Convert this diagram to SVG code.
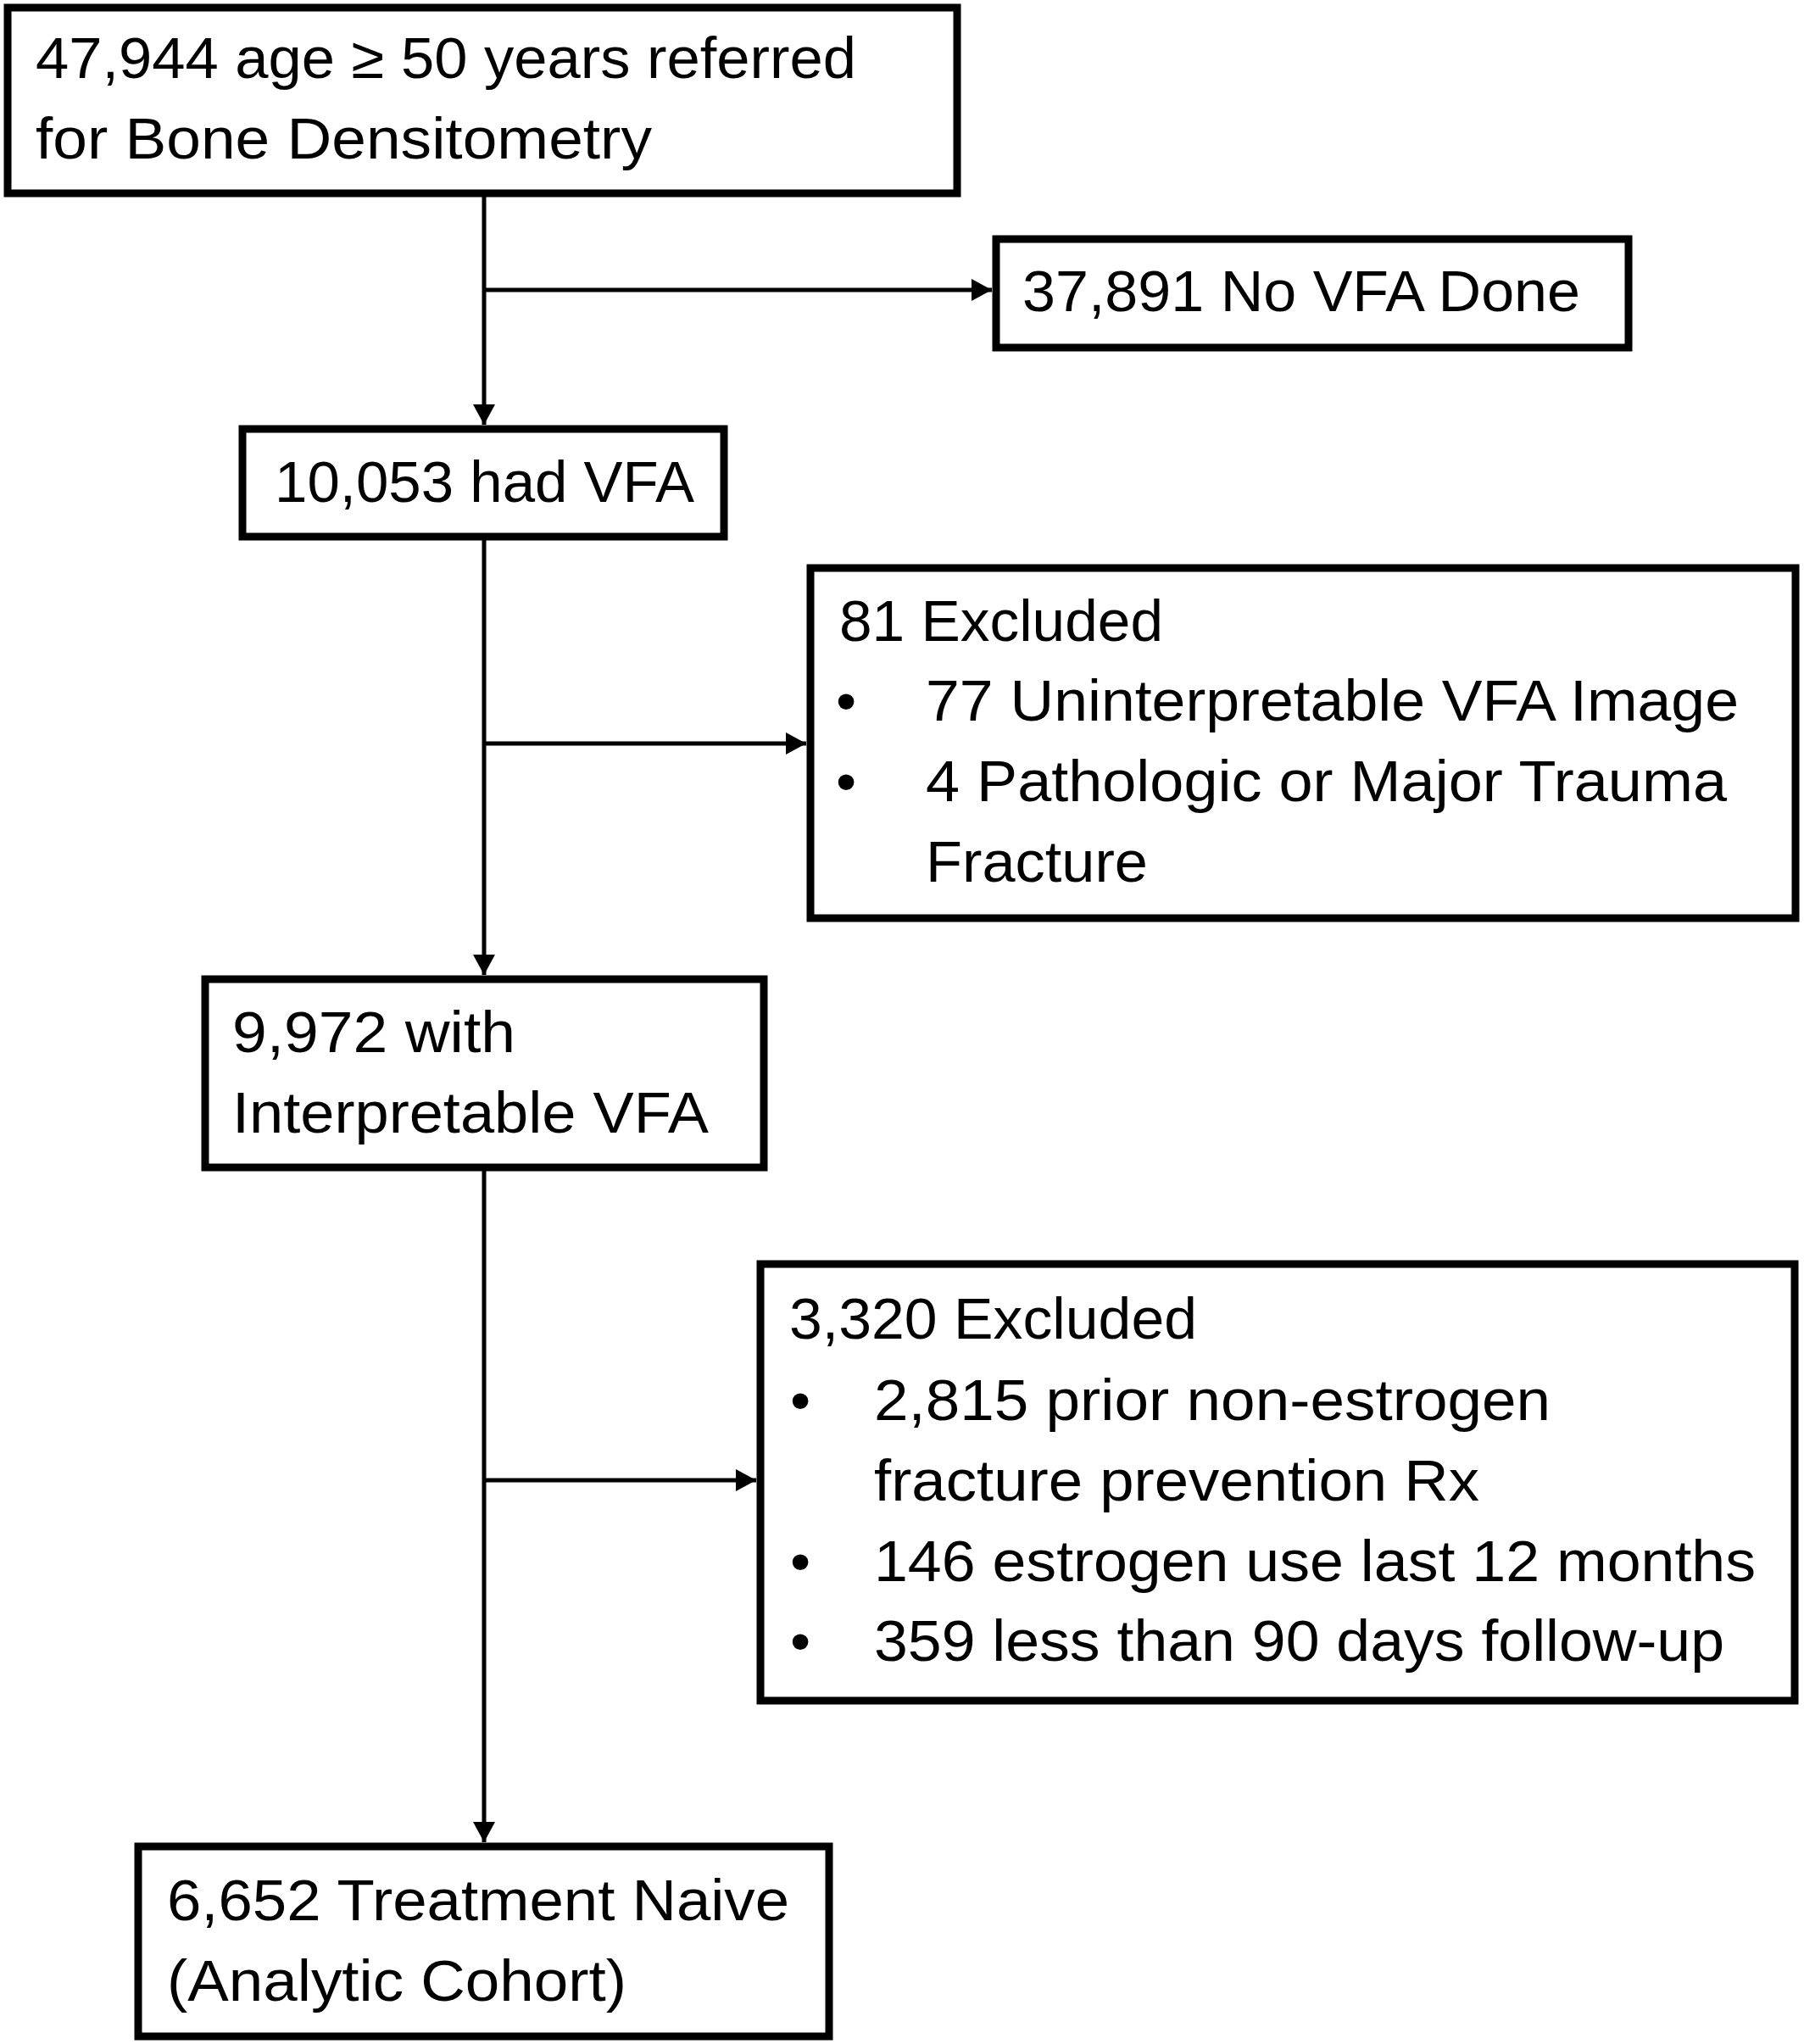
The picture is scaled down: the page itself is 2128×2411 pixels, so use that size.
<svg xmlns="http://www.w3.org/2000/svg" width="2128" height="2411" viewBox="0 0 2128 2411">
<style>
.box{fill:#fff;stroke:#000;stroke-width:9}
.t{font-family:"Liberation Sans",Arial,sans-serif;font-size:69px;fill:#000}
.c{stroke:#000;stroke-width:5;fill:none}
</style>
<defs>
<marker id="ah" markerUnits="userSpaceOnUse" markerWidth="26" markerHeight="26" viewBox="0 0 26 26" refX="24" refY="13" orient="auto">
<path d="M0,0 L24,13 L0,26 z" fill="#000"/>
</marker>
</defs>
<rect width="2128" height="2411" fill="#fff"/>
<g id="connectors">
<line class="c" x1="571" y1="232" x2="571" y2="501" marker-end="url(#ah)"/>
<line class="c" x1="571" y1="342" x2="1170" y2="342" marker-end="url(#ah)"/>
<line class="c" x1="571" y1="637" x2="571" y2="1150" marker-end="url(#ah)"/>
<line class="c" x1="571" y1="877" x2="951" y2="877" marker-end="url(#ah)"/>
<line class="c" x1="571" y1="1381" x2="571" y2="2173" marker-end="url(#ah)"/>
<line class="c" x1="571" y1="1746" x2="892" y2="1746" marker-end="url(#ah)"/>
</g>
<g id="n1">
<rect class="box" x="9" y="9" width="1120" height="219"/>
<text class="t" x="42" y="92" textLength="968" lengthAdjust="spacingAndGlyphs">47,944 age ≥ 50 years referred</text>
<text class="t" x="42" y="187" textLength="727" lengthAdjust="spacingAndGlyphs">for Bone Densitometry</text>
</g>
<g id="n2">
<rect class="box" x="1175" y="282" width="746" height="128"/>
<text class="t" x="1206" y="367" textLength="658" lengthAdjust="spacingAndGlyphs">37,891 No VFA Done</text>
</g>
<g id="n3">
<rect class="box" x="286" y="506" width="568" height="127"/>
<text class="t" x="324" y="592" textLength="495" lengthAdjust="spacingAndGlyphs">10,053 had VFA</text>
</g>
<g id="n4">
<rect class="box" x="956" y="670" width="1162" height="413"/>
<text class="t" x="990" y="756" textLength="382" lengthAdjust="spacingAndGlyphs">81 Excluded</text>
<text class="t" x="986" y="850">•</text>
<text class="t" x="1092" y="850" textLength="959" lengthAdjust="spacingAndGlyphs">77 Uninterpretable VFA Image</text>
<text class="t" x="986" y="945">•</text>
<text class="t" x="1092" y="945" textLength="945" lengthAdjust="spacingAndGlyphs">4 Pathologic or Major Trauma</text>
<text class="t" x="1092" y="1040" textLength="262" lengthAdjust="spacingAndGlyphs">Fracture</text>
</g>
<g id="n5">
<rect class="box" x="242" y="1155" width="659" height="222"/>
<text class="t" x="274" y="1241" textLength="334" lengthAdjust="spacingAndGlyphs">9,972 with</text>
<text class="t" x="274" y="1336" textLength="562" lengthAdjust="spacingAndGlyphs">Interpretable VFA</text>
</g>
<g id="n6">
<rect class="box" x="897" y="1491" width="1220" height="515"/>
<text class="t" x="931" y="1579" textLength="481" lengthAdjust="spacingAndGlyphs">3,320 Excluded</text>
<text class="t" x="932" y="1675">•</text>
<text class="t" x="1031" y="1675" textLength="798" lengthAdjust="spacingAndGlyphs">2,815 prior non-estrogen</text>
<text class="t" x="1031" y="1770" textLength="714" lengthAdjust="spacingAndGlyphs">fracture prevention Rx</text>
<text class="t" x="932" y="1865">•</text>
<text class="t" x="1031" y="1865" textLength="1040" lengthAdjust="spacingAndGlyphs">146 estrogen use last 12 months</text>
<text class="t" x="932" y="1959">•</text>
<text class="t" x="1031" y="1959" textLength="1003" lengthAdjust="spacingAndGlyphs">359 less than 90 days follow-up</text>
</g>
<g id="n7">
<rect class="box" x="163" y="2178" width="815" height="224"/>
<text class="t" x="197" y="2265" textLength="734" lengthAdjust="spacingAndGlyphs">6,652 Treatment Naive</text>
<text class="t" x="197" y="2360" textLength="542" lengthAdjust="spacingAndGlyphs">(Analytic Cohort)</text>
</g>
</svg>
